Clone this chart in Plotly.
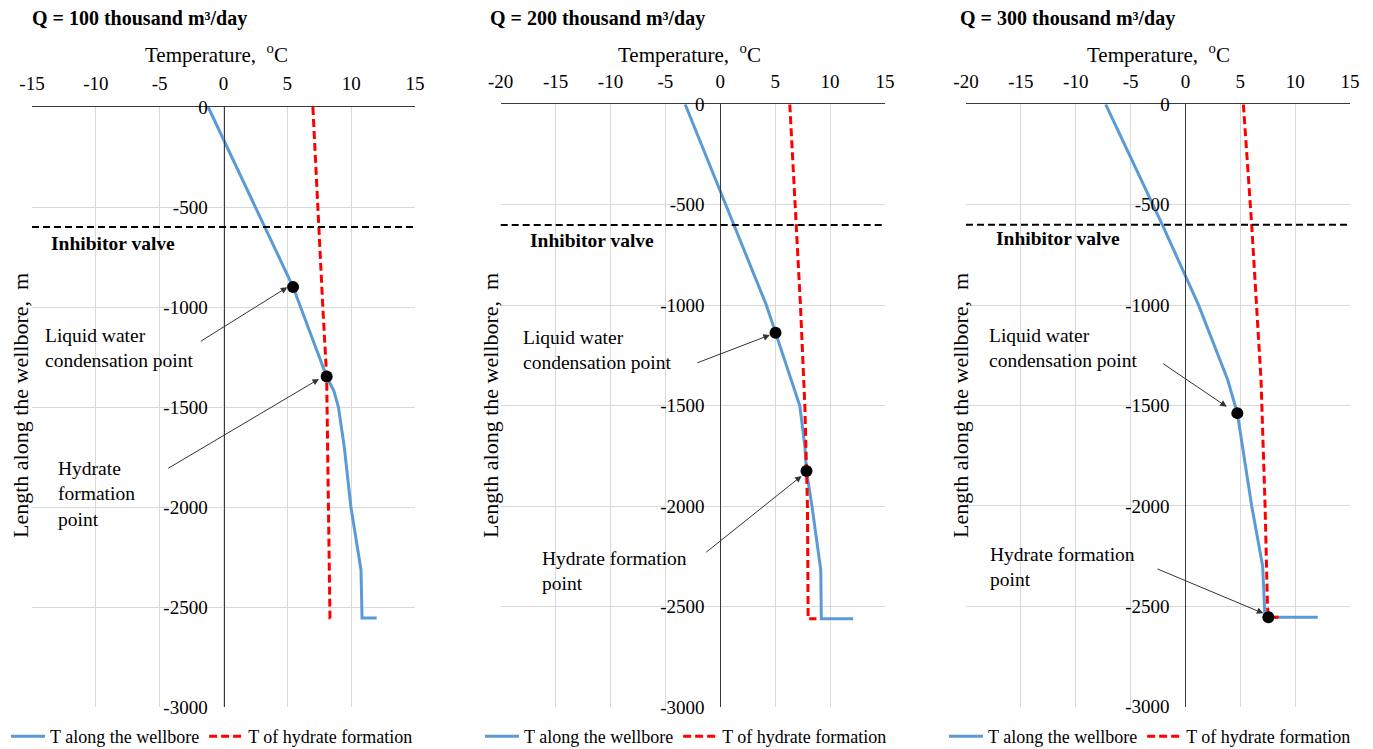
import plotly.graph_objects as go

OFF = 8                      # page body margin of the html page
W, H = 1373 - OFF, 749 - OFF
FONT = "Liberation Serif, Times New Roman, serif"

# ---------------- data ----------------
TITLES = ["Q = 100 thousand m³/day",
          "Q = 200 thousand m³/day",
          "Q = 300 thousand m³/day"]
SERIES_NAMES = ["T along the wellbore", "T of hydrate formation"]
VALVE_DEPTH = -600

# Panel 1 (Q = 100)
p1_well_depth = [0, -300, -600, -900, -1100, -1348, -1420, -1500, -1700, -2000, -2315, -2555, -2555]
p1_well_temp = [-1.2, 1.0, 3.25, 5.45, 6.62, 8.08, 8.65, 9.0, 9.46, 9.98, 10.77, 10.85, 12.0]
p1_hyd_depth = [0, -600, -1000, -1348, -2000, -2555, -2558]
p1_hyd_temp = [7.0, 7.45, 7.78, 8.08, 8.21, 8.34, 8.68]
p1_points_temp = [5.45, 8.08]
p1_points_depth = [-900, -1348]

# Panel 2 (Q = 200)
p2_well_depth = [0, -1000, -1136, -1375, -1500, -1700, -1824, -2000, -2317, -2560, -2560]
p2_well_temp = [-3.2, 4.2, 5.03, 6.48, 7.24, 7.70, 7.85, 8.35, 9.15, 9.2, 12.1]
p2_hyd_depth = [0, -600, -1000, -1500, -1824, -2000, -2560, -2560]
p2_hyd_temp = [6.33, 6.94, 7.3, 7.7, 7.85, 7.94, 8.0, 8.76]
p2_points_temp = [5.03, 7.85]
p2_points_depth = [-1136, -1824]

# Panel 3 (Q = 300)
p3_well_depth = [0, -600, -1000, -1372, -1538, -2000, -2300, -2500, -2555, -2555]
p3_well_temp = [-7.27, -2.1, 1.2, 3.85, 4.73, 6.04, 7.04, 7.2, 7.25, 12.06]
p3_hyd_depth = [0, -600, -1372, -2000, -2500, -2555, -2555]
p3_hyd_temp = [5.28, 6.04, 6.89, 7.26, 7.48, 7.56, 8.78]
p3_points_temp = [4.73, 7.56]
p3_points_depth = [-1538, -2555]

X_RANGES = [(-15, 15), (-20, 15), (-20, 15)]
X_TICKS = [[-15, -10, -5, 0, 5, 10, 15], [-20, -15, -10, -5, 0, 5, 10, 15], [-20, -15, -10, -5, 0, 5, 10, 15]]
X_TICKTEXT = [["-15", "-10", "-5", "0", "5", "10", "15"],
              ["-20", "-15", "-10", "-5", "0", "5", "10", "15"],
              ["-20", "-15", "-10", "-5", "0", "5", "10", "15"]]
Y_TICKS = [0, -500, -1000, -1500, -2000, -2500, -3000]
Y_TICKTEXT = ["0", "-500", "-1000", "-1500", "-2000", "-2500", "-3000"]

panels = [
    dict(wd=p1_well_depth, wt=p1_well_temp, hd=p1_hyd_depth, ht=p1_hyd_temp,
         pt=p1_points_temp, pd=p1_points_depth),
    dict(wd=p2_well_depth, wt=p2_well_temp, hd=p2_hyd_depth, ht=p2_hyd_temp,
         pt=p2_points_temp, pd=p2_points_depth),
    dict(wd=p3_well_depth, wt=p3_well_temp, hd=p3_hyd_depth, ht=p3_hyd_temp,
         pt=p3_points_temp, pd=p3_points_depth),
]

# ---------------- layout geometry (page pixels) ----------------
PLOT_BOX = [(32, 415, 107, 707), (500.7, 885, 104.3, 707.3), (966, 1350, 104.3, 706.7)]


def px(x):
    return (x - OFF) / W


def py(y):
    return 1 - (y - OFF) / H


BLUE = "#5B9BD5"
RED = "#FF0000"
GRID = "#D9D9D9"
AXIS = "#3A3A3A"

fig = go.Figure()
layout = dict(width=W, height=H, margin=dict(l=0, r=0, t=0, b=0, pad=0, autoexpand=False),
              paper_bgcolor="white", plot_bgcolor="white",
              font=dict(family=FONT, color="black", size=19), showlegend=True)

annotations = []
shapes = []

# arrows (head, tail) in data coordinates
ARROWS = [
    [((5.0, -901), (-1.90, -1176)), ((7.48, -1360), (-4.45, -1811))],
    [((4.51, -1148), (-2.23, -1289)), ((7.40, -1849), (-1.41, -2234))],
    [((3.76, -1506), (-2.16, -1287)), ((7.10, -2535), (-2.68, -2311))],
]
COND_TEXT = [(43, 348), (521, 350), (987, 348)]
HYD_TEXT = [(56, 494, "Hydrate<br>formation<br>point"),
            (540, 571, "Hydrate formation<br>point"),
            (988, 567, "Hydrate formation<br>point")]
VALVE_TEXT = [(49, 243), (528, 240), (994, 239)]
TITLE_POS = [(30, 18), (488, 18), (958, 18)]
TEMP_TITLE_X = [216, 689, 1158]
YTITLE_X = [20, 490, 960]
LEGEND_X = [6, 480, 944]

for i, p in enumerate(panels):
    k = "" if i == 0 else str(i + 1)
    xa, ya = "x" + k, "y" + k
    leg = "legend" + k
    x0, x1, y0, y1 = PLOT_BOX[i]
    xr = X_RANGES[i]
    xdom = [px(x0), px(x1)]
    ydom = [py(y1), py(y0)]
    zero_frac = xdom[0] + (0 - xr[0]) / (xr[1] - xr[0]) * (xdom[1] - xdom[0])

    fig.add_trace(go.Scatter(x=p["wt"], y=p["wd"], mode="lines", name=SERIES_NAMES[0],
                             line=dict(color=BLUE, width=3), xaxis=xa, yaxis=ya, legend=leg))
    fig.add_trace(go.Scatter(x=p["ht"], y=p["hd"], mode="lines", name=SERIES_NAMES[1],
                             line=dict(color=RED, width=3, dash="8px,4px"), xaxis=xa, yaxis=ya, legend=leg))
    fig.add_trace(go.Scatter(x=p["pt"], y=p["pd"], mode="markers", showlegend=False,
                             marker=dict(color="black", size=12), xaxis=xa, yaxis=ya))

    layout["xaxis" + k] = dict(domain=xdom, range=list(xr), side="top", anchor=ya,
                               tickvals=X_TICKS[i], ticktext=X_TICKTEXT[i],
                               showgrid=True, gridcolor=GRID, gridwidth=1,
                               showline=True, linecolor=AXIS, linewidth=1, mirror=False,
                               zeroline=False, ticks="", ticklabelstandoff=8, automargin=False,
                               tickfont=dict(size=19, family=FONT, color="black"),
                               fixedrange=True)
    layout["yaxis" + k] = dict(domain=ydom, range=[-3000, 0], anchor="free", position=zero_frac,
                               tickvals=Y_TICKS, ticktext=Y_TICKTEXT,
                               showgrid=True, gridcolor=GRID, gridwidth=1,
                               showline=True, linecolor=AXIS, linewidth=1,
                               zeroline=False, ticks="", ticklabelstandoff=12, automargin=False,
                               tickfont=dict(size=19, family=FONT, color="black"),
                               fixedrange=True)
    layout[leg] = dict(orientation="h", x=px(LEGEND_X[i]), y=py(736.5), xanchor="left", yanchor="middle",
                       font=dict(size=18, family=FONT, color="black"),
                       bgcolor="rgba(0,0,0,0)", itemwidth=34, tracegroupgap=0)

    shapes.append(dict(type="line", xref=xa + " domain", yref=ya, x0=0, x1=1,
                       y0=VALVE_DEPTH, y1=VALVE_DEPTH,
                       line=dict(color="black", width=2, dash="7px,4px")))

    # text labels
    annotations.append(dict(xref="paper", yref="paper", x=px(TITLE_POS[i][0]), y=py(TITLE_POS[i][1]),
                            xanchor="left", yanchor="middle", showarrow=False,
                            text="<b>" + TITLES[i] + "</b>", font=dict(size=20, family=FONT)))
    annotations.append(dict(xref="paper", yref="paper", x=px(TEMP_TITLE_X[i]), y=py(53),
                            xanchor="center", yanchor="middle", showarrow=False,
                            text="Temperature,  <sup>o</sup>C", font=dict(size=21, family=FONT)))
    annotations.append(dict(xref="paper", yref="paper", x=px(YTITLE_X[i]), y=py(406),
                            xanchor="center", yanchor="middle", showarrow=False, textangle=-90,
                            text="Length along the wellbore,  m", font=dict(size=22, family=FONT)))
    annotations.append(dict(xref="paper", yref="paper", x=px(VALVE_TEXT[i][0]), y=py(VALVE_TEXT[i][1]),
                            xanchor="left", yanchor="middle", showarrow=False,
                            text="<b>Inhibitor valve</b>", font=dict(size=19.5, family=FONT)))
    annotations.append(dict(xref="paper", yref="paper", x=px(COND_TEXT[i][0]), y=py(COND_TEXT[i][1]),
                            xanchor="left", yanchor="middle", align="left", showarrow=False,
                            text="Liquid water<br>condensation point", font=dict(size=19.5, family=FONT)))
    annotations.append(dict(xref="paper", yref="paper", x=px(HYD_TEXT[i][0]), y=py(HYD_TEXT[i][1]),
                            xanchor="left", yanchor="middle", align="left", showarrow=False,
                            text=HYD_TEXT[i][2], font=dict(size=19.5, family=FONT)))
    for (hx, hy), (tx, ty) in ARROWS[i]:
        annotations.append(dict(xref=xa, yref=ya, axref=xa, ayref=ya, x=hx, y=hy, ax=tx, ay=ty,
                                text="", showarrow=True, arrowhead=2, arrowsize=1.3, arrowwidth=1,
                                arrowcolor="#333333", standoff=0, startstandoff=0))

layout["annotations"] = annotations
layout["shapes"] = shapes
fig.update_layout(**layout)

fig.write_html("out.html", config={"displayModeBar": False})
